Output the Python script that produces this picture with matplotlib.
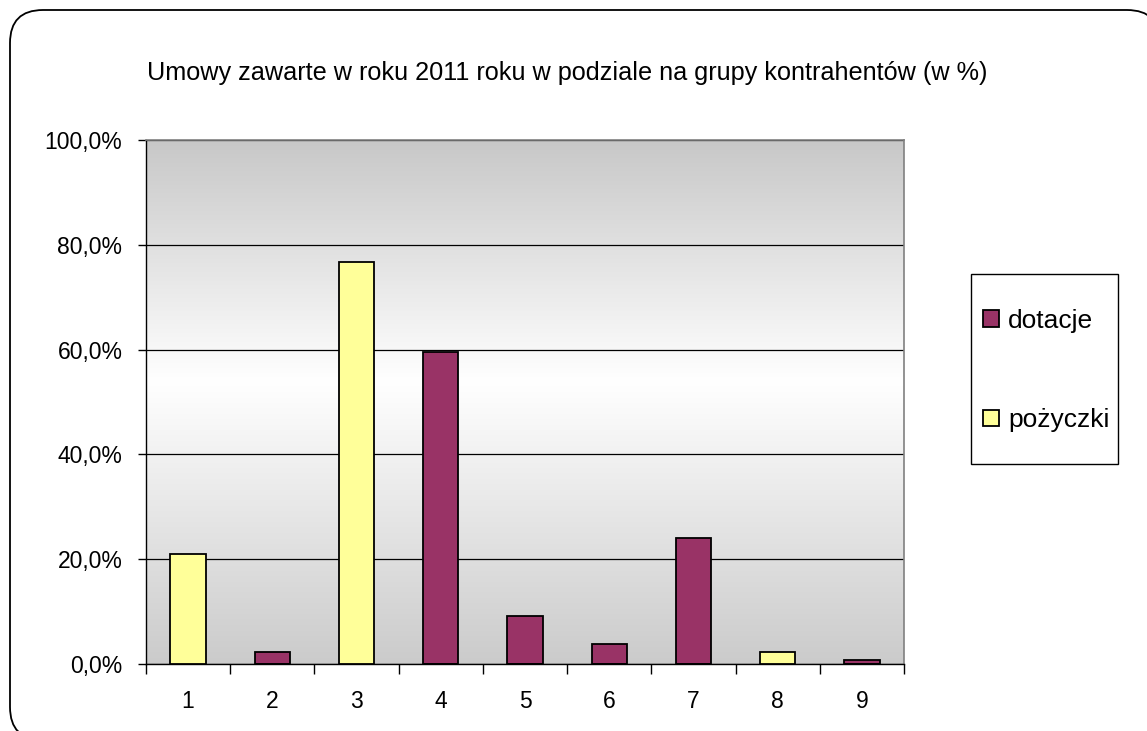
import numpy as np
import matplotlib.pyplot as plt
from matplotlib.patches import FancyBboxPatch, Patch, Rectangle
from matplotlib.colors import LinearSegmentedColormap
from matplotlib.ticker import FuncFormatter

plt.rcParams["font.family"] = ["Liberation Sans", "DejaVu Sans"]

# dane
categories = ["1", "2", "3", "4", "5", "6", "7", "8", "9"]
dotacje = [0.0, 2.3, 0.0, 59.5, 9.2, 3.8, 24.0, 0.0, 0.8]
pozyczki = [21.0, 0.0, 76.7, 0.0, 0.0, 0.0, 0.0, 2.3, 0.0]
series_names = ["dotacje", "pożyczki"]
title = "Umowy zawarte w roku 2011 roku w podziale na grupy kontrahentów (w %)"

col_dot = "#993366"
col_poz = "#FFFF99"

W, H = 1147, 731
fig = plt.figure(figsize=(W / 100, H / 100), dpi=100)

# ramka z zaokrąglonymi rogami i cieniem (w calach, 1 px = 0.01 in)
tr = fig.dpi_scale_trans
shadow = FancyBboxPatch((0.14, -0.13), 11.50, 7.30, boxstyle="round,pad=0,rounding_size=0.33",
                        transform=tr, facecolor="black", edgecolor="black", zorder=0)
frame = FancyBboxPatch((0.10, -0.09), 11.50, 7.30, boxstyle="round,pad=0,rounding_size=0.33",
                       transform=tr, facecolor="white", edgecolor="black", linewidth=1.3, zorder=1)
fig.patches.extend([shadow, frame])

ax = fig.add_axes([146 / W, 1 - 664 / H, (904 - 146) / W, (664 - 140) / H])
ax.set_zorder(2)

# tło z gradientem
cmap = LinearSegmentedColormap.from_list("bg", [(0, "#cbcbcb"), (0.54, "#ffffff"), (1, "#c8c8c8")])
grad = np.linspace(0, 1, 256).reshape(-1, 1)
ax.imshow(grad, aspect="auto", cmap=cmap, extent=[0, len(categories), 0, 100],
          origin="lower", zorder=0)

x = np.arange(len(categories)) + 0.5
w = 0.42
ax.bar(x, dotacje, width=w, color=col_dot, edgecolor="black", linewidth=1.3, zorder=3)
ax.bar(x, pozyczki, width=w, color=col_poz, edgecolor="black", linewidth=1.3, zorder=3)

ax.set_xlim(0, len(categories))
ax.set_ylim(0, 100)
ax.set_yticks(np.arange(0, 101, 20))
ax.yaxis.set_major_formatter(FuncFormatter(lambda v, p: f"{v:.1f}%".replace(".", ",")))
ax.set_xticks(np.arange(len(categories) + 1))
ax.set_xticklabels([])
ax.set_xticks(x, minor=True)
ax.set_xticklabels(categories, minor=True)
ax.tick_params(axis="x", which="minor", length=0, pad=19, labelsize=16.5)
ax.tick_params(axis="x", which="major", length=7, width=1, direction="out")
ax.tick_params(axis="y", length=6, width=1, direction="out", labelsize=16.5, pad=11)
ax.grid(axis="y", color="black", linewidth=0.9, zorder=1)
ax.set_axisbelow(True)

for s in ["top", "right"]:
    ax.spines[s].set_color("#808080")
    ax.spines[s].set_linewidth(1.2)
for s in ["left", "bottom"]:
    ax.spines[s].set_color("black")
    ax.spines[s].set_linewidth(1.0)

fig.text(567 / W, 1 - 73 / H, title, ha="center", va="center", fontsize=18.2, zorder=5)

# legenda: ramka osobno, wpisy bez ramki
box = Rectangle((971 / W, 1 - 464 / H), (1118 - 971) / W, (464 - 274) / H, transform=fig.transFigure,
                facecolor="white", edgecolor="black", linewidth=1.0, zorder=4)
fig.patches.append(box)
handles = [Patch(facecolor=col_dot, edgecolor="black", linewidth=1.3),
           Patch(facecolor=col_poz, edgecolor="black", linewidth=1.3)]
leg = fig.legend(handles, series_names, loc="upper left", bbox_to_anchor=(983 / W, 1 - 309 / H),
                 fontsize=19, frameon=False, handlelength=0.6, handleheight=0.6,
                 handletextpad=0.35, labelspacing=2.85, borderpad=0, borderaxespad=0)
leg.set_zorder(5)

fig.savefig("out.png", dpi=100)
